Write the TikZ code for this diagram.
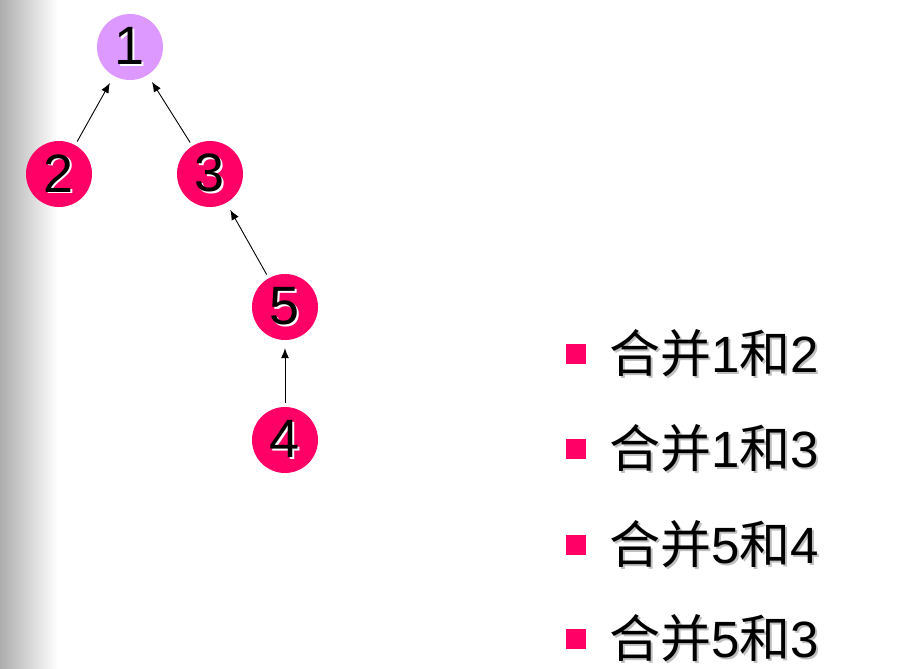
\documentclass[tikz,border=0pt]{standalone}
\usepackage{fontspec}
\setmainfont{Liberation Sans}
\newfontfamily\cjk{Noto Sans CJK SC}
\usetikzlibrary{positioning, arrows.meta}
\definecolor{setred}{HTML}{FF0066}
\definecolor{rootpurple}{HTML}{DD99FF}
\newcommand{\shadowed}[2]{{\color{#1}\rlap{\hspace{1.6pt}\raisebox{-1.6pt}{#2}}}#2}
\tikzset{
    elem/.style={circle, fill=setred, minimum size=66pt, inner sep=0pt,
        font=\fontsize{54}{58}\selectfont},
    link/.style={-{Latex[length=10pt,width=8pt]}, line width=0.9pt, shorten <=4pt, shorten >=8pt},
    bullet/.style={fill=setred, minimum size=20pt, inner sep=0pt},
    step text/.style={font=\fontsize{51}{56}\selectfont, inner sep=0pt}
}
\begin{document}
\begin{tikzpicture}[x=1pt, y=-1pt]
    \useasboundingbox (0,0) rectangle (913,669);
    \shade[left color=black!32, right color=white] (0,0) rectangle (58,669);
    % the tree
    \node[elem, fill=rootpurple] (n1) at (130,47) {\shadowed{white}{1}};
    \node[elem] (n2) at (59,174) {\shadowed{white}{2}};
    \node[elem] (n3) at (210,174) {\shadowed{white}{3}};
    \node[elem] (n5) at (285,307) {\shadowed{white}{5}};
    \node[elem] (n4) at (285,440) {\shadowed{white}{4}};
    \draw[link] (n2) -- (n1);
    \draw[link] (n3) -- (n1);
    \draw[link] (n5) -- (n3);
    \draw[link] (n4) -- (n5);
    % merge steps
    \foreach \i/\y/\a/\b in {1/354/1/2, 2/449/1/3, 3/545/5/4, 4/639/5/3}{
        \node[bullet] (b\i) at (576,\y) {};
        \node[step text, right=23pt of b\i] (s\i)
            {\shadowed{black!25}{{\cjk 合并}\a{\cjk 和}\b}};
    }
\end{tikzpicture}
\end{document}
